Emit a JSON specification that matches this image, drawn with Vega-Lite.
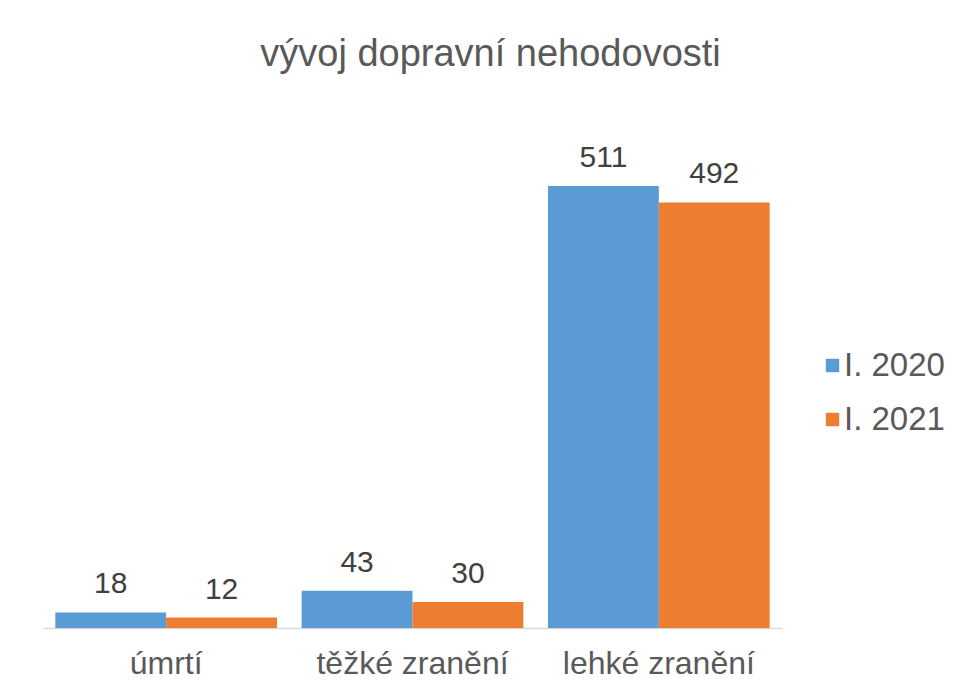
{
  "$schema": "https://vega.github.io/schema/vega-lite/v6.json",
  "autosize": {"type": "none"},
  "width": 739,
  "height": 519,
  "padding": {"left": 43, "top": 109, "right": 176, "bottom": 67},
  "background": "white",
  "title": {
    "text": "vývoj dopravní nehodovosti",
    "anchor": "middle",
    "dx": 78,
    "offset": 5,
    "baseline": "alphabetic",
    "font": "Liberation Sans",
    "fontSize": 38,
    "fontWeight": "normal",
    "color": "#595959"
  },
  "data": {
    "values": [
      {"kategorie": "úmrtí", "obdobi": "I. 2020", "pocet": 18},
      {"kategorie": "úmrtí", "obdobi": "I. 2021", "pocet": 12},
      {"kategorie": "těžké zranění", "obdobi": "I. 2020", "pocet": 43},
      {"kategorie": "těžké zranění", "obdobi": "I. 2021", "pocet": 30},
      {"kategorie": "lehké zranění", "obdobi": "I. 2020", "pocet": 511},
      {"kategorie": "lehké zranění", "obdobi": "I. 2021", "pocet": 492}
    ]
  },
  "encoding": {
    "x": {
      "field": "kategorie",
      "type": "nominal",
      "sort": ["úmrtí", "těžké zranění", "lehké zranění"],
      "scale": {"paddingInner": 0.1, "paddingOuter": 0.05},
      "axis": {
        "title": null,
        "labelAngle": 0,
        "ticks": false,
        "domainColor": "#D9D9D9",
        "domainWidth": 1.5,
        "labelFont": "Liberation Sans",
        "labelFontSize": 32,
        "labelColor": "#595959",
        "labelPadding": 20,
        "labelLimit": 0
      }
    },
    "xOffset": {"field": "obdobi", "type": "nominal", "sort": ["I. 2020", "I. 2021"]},
    "y": {
      "field": "pocet",
      "type": "quantitative",
      "scale": {"domain": [0, 600]},
      "axis": null
    }
  },
  "layer": [
    {
      "mark": {"type": "bar"},
      "encoding": {
        "color": {
          "field": "obdobi",
          "type": "nominal",
          "scale": {"domain": ["I. 2020", "I. 2021"], "range": ["#5B9BD5", "#ED7D31"]},
          "legend": {
            "title": null,
            "orient": "none",
            "legendX": 773,
            "legendY": 240,
            "padding": 0,
            "symbolType": "square",
            "symbolSize": 180,
            "symbolStrokeWidth": 0,
            "labelFont": "Liberation Sans",
            "labelFontSize": 33,
            "labelColor": "#595959",
            "labelOffset": -5,
            "rowPadding": 20
          }
        }
      }
    },
    {
      "mark": {
        "type": "text",
        "baseline": "alphabetic",
        "dy": -19,
        "font": "Liberation Sans",
        "fontSize": 30,
        "color": "#404040"
      },
      "encoding": {"text": {"field": "pocet", "type": "quantitative"}}
    }
  ],
  "config": {"view": {"stroke": null}}
}
